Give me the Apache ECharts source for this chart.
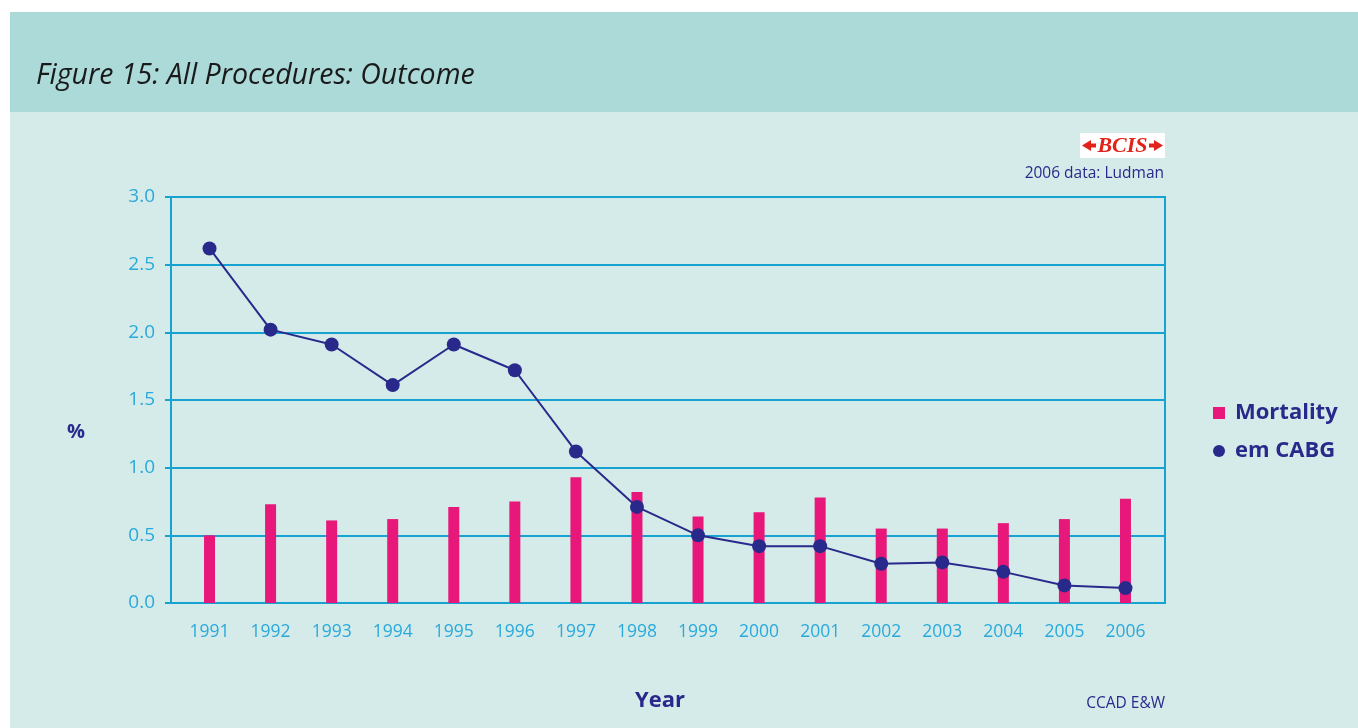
<!DOCTYPE html>
<html>
<head>
<meta charset="utf-8">
<script src="https://cdn.jsdelivr.net/npm/echarts@6/dist/echarts.min.js"></script>
<style>
  html, body { margin: 0; padding: 0; background: #ffffff; }
  #chart { width: 1358px; height: 728px; }
</style>
</head>
<body>
<div id="chart"></div>
<script>
// Years on the horizontal axis
const years = ['1991','1992','1993','1994','1995','1996','1997','1998','1999','2000','2001','2002','2003','2004','2005','2006'];
// In-hospital mortality, all procedures (%)
const mortality = [0.50, 0.73, 0.61, 0.62, 0.71, 0.75, 0.93, 0.82, 0.64, 0.67, 0.78, 0.55, 0.55, 0.59, 0.62, 0.77];
// Emergency CABG rate (%)
const emCABG = [2.62, 2.02, 1.91, 1.61, 1.91, 1.72, 1.12, 0.71, 0.50, 0.42, 0.42, 0.29, 0.30, 0.23, 0.13, 0.11];
// Value-axis ticks
const yTicks = [0, 0.5, 1.0, 1.5, 2.0, 2.5, 3.0];

const CYAN = '#17a3d2';
const LABEL_CYAN = '#2aa9db';
const NAVY = '#29298c';
const PINK = '#e8177a';
const RED = '#e2231a';
const FONT = '"Open Sans", "Noto Sans", sans-serif';

const chart = echarts.init(document.getElementById('chart'), null, { renderer: 'canvas' });

const option = {
  backgroundColor: '#ffffff',
  animation: false,
  graphic: [
    // page panels
    { type: 'rect', z: -10, shape: { x: 10, y: 12, width: 1348, height: 100 }, style: { fill: '#acdad9' } },
    { type: 'rect', z: -10, shape: { x: 10, y: 112, width: 1348, height: 616 }, style: { fill: '#d5ebe9' } },
    { type: 'text', x: 36, y: 76, style: { text: 'Figure 15: All Procedures: Outcome', font: 'italic 28.5px "Open Sans", "Noto Sans", sans-serif', fill: '#1a1a1a', verticalAlign: 'middle' } },
    // BCIS badge
    { type: 'rect', shape: { x: 1080, y: 133, width: 85, height: 25 }, style: { fill: '#ffffff' } },
    { type: 'polygon', shape: { points: [[1082, 145.5], [1091, 140], [1091, 151]] }, style: { fill: RED } },
    { type: 'rect', shape: { x: 1090, y: 143.5, width: 6, height: 4 }, style: { fill: RED } },
    { type: 'polygon', shape: { points: [[1163, 145.5], [1154, 140], [1154, 151]] }, style: { fill: RED } },
    { type: 'rect', shape: { x: 1149, y: 143.5, width: 6, height: 4 }, style: { fill: RED } },
    { type: 'text', x: 1122.5, y: 146, style: { text: 'BCIS', font: 'italic bold 22px "Liberation Serif", "DejaVu Serif", serif', fill: RED, align: 'center', verticalAlign: 'middle' } },
    { type: 'text', x: 1164, y: 174, style: { text: '2006 data: Ludman', font: '15.5px ' + FONT, fill: NAVY, align: 'right', verticalAlign: 'middle' } },
    { type: 'text', x: 76, y: 432, style: { text: '%', font: 'bold 20px ' + FONT, fill: NAVY, align: 'center', verticalAlign: 'middle' } },
    { type: 'text', x: 660, y: 701, style: { text: 'Year', font: 'bold 22px ' + FONT, fill: NAVY, align: 'center', verticalAlign: 'middle' } },
    { type: 'text', x: 1165, y: 704, style: { text: 'CCAD E&W', font: '15.5px ' + FONT, fill: NAVY, align: 'right', verticalAlign: 'middle' } }
  ],
  legend: {
    orient: 'vertical',
    left: 1208,
    top: 397,
    itemWidth: 12,
    itemHeight: 12,
    itemGap: 16,
    textStyle: { color: NAVY, fontSize: 22, fontWeight: 'bold', fontFamily: FONT, padding: [0, 0, 0, 5] },
    data: [
      { name: 'Mortality', icon: 'rect' },
      { name: 'em CABG', icon: 'circle' }
    ]
  },
  grid: [
    // frame, gridlines and value labels
    { left: 171, right: 193, top: 197, bottom: 125, show: true, borderColor: CYAN, borderWidth: 2, backgroundColor: 'transparent' },
    // plotting area for the yearly categories
    { left: 179, width: 977, top: 197, bottom: 125 }
  ],
  xAxis: [
    { type: 'category', gridIndex: 0, data: years, show: false },
    {
      type: 'category', gridIndex: 1, data: years,
      axisLine: { show: false }, axisTick: { show: false },
      axisLabel: { color: LABEL_CYAN, fontSize: 17.5, fontFamily: FONT, margin: 20 }
    }
  ],
  yAxis: [
    {
      type: 'value', gridIndex: 0, min: 0, max: 3, interval: 0.5,
      axisLine: { show: true, lineStyle: { color: CYAN, width: 2 } },
      axisTick: { show: true, length: 6, lineStyle: { color: CYAN, width: 2 } },
      splitLine: { show: true, lineStyle: { color: CYAN, width: 2 } },
      axisLabel: {
        color: LABEL_CYAN, fontSize: 19, fontFamily: FONT, margin: 16,
        formatter: v => (yTicks.indexOf(v) >= 0 ? v.toFixed(1) : '')
      }
    },
    { type: 'value', gridIndex: 1, min: 0, max: 3, interval: 0.5, show: false, splitLine: { show: false } }
  ],
  series: [
    {
      name: 'Mortality', type: 'bar', xAxisIndex: 1, yAxisIndex: 1,
      data: mortality, barWidth: 11,
      itemStyle: { color: PINK }
    },
    {
      name: 'em CABG', type: 'line', xAxisIndex: 1, yAxisIndex: 1,
      data: emCABG, symbol: 'circle', symbolSize: 14,
      lineStyle: { color: NAVY, width: 2 },
      itemStyle: { color: NAVY }
    }
  ]
};

chart.setOption(option);
</script>
</body>
</html>
